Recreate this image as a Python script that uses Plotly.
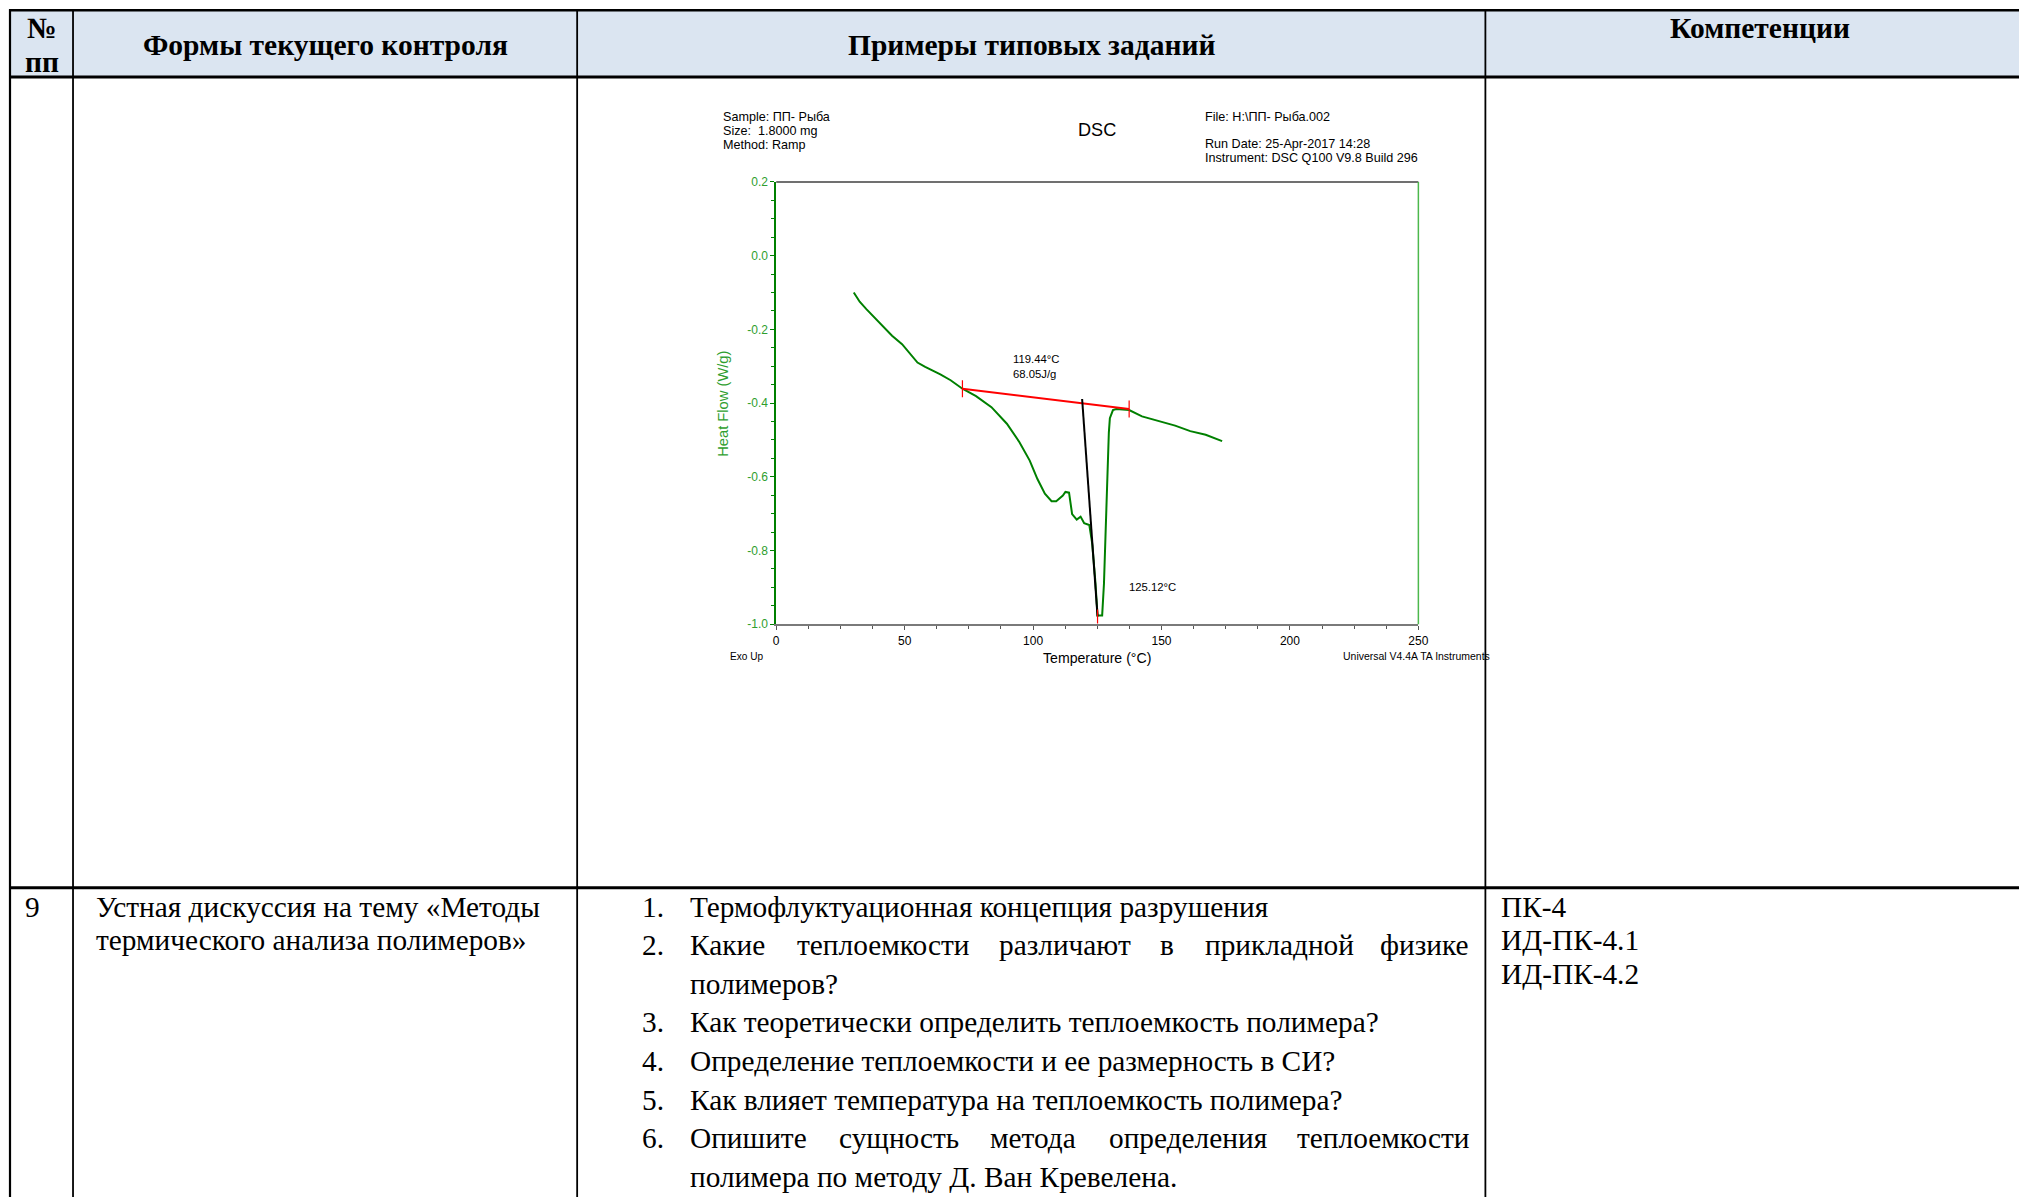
import plotly.graph_objects as go

W, H = 2019, 1197
# small correction measured between intended and photographed positions
AX, BX = 0.9933, 3.0
AY, BY = 0.9898, 6.8
FS = 1.008   # matching font scale correction

# ---------------- DSC data ----------------
temperature = [30.2, 32.5, 35.1, 40.1, 45.1, 49.0, 52.0, 55.0, 58.0, 63.9, 67.9, 72.5,
               77.8, 83.8, 89.8, 94.7, 98.7, 101.7, 104.6, 107.2, 109.0, 111.6, 112.6,
               114.0, 115.2, 117.0, 118.5, 119.9, 121.9, 123.0, 124.2, 125.1, 126.9,
               127.6, 128.2, 128.9, 129.5, 129.9, 131.1, 132.4, 137.4, 142.4, 149.3,
               155.3, 161.2, 167.2, 173.6]
heat_flow = [-0.100, -0.125, -0.145, -0.180, -0.217, -0.240, -0.265, -0.290, -0.302,
             -0.322, -0.338, -0.361, -0.381, -0.411, -0.456, -0.506, -0.556, -0.606,
             -0.646, -0.666, -0.666, -0.651, -0.641, -0.643, -0.701, -0.716, -0.708,
             -0.726, -0.731, -0.780, -0.880, -0.976, -0.976, -0.890, -0.760, -0.581,
             -0.480, -0.441, -0.419, -0.416, -0.419, -0.436, -0.449, -0.461, -0.476,
             -0.486, -0.503]

baseline_temp = [72.5, 137.4]
baseline_hf = [-0.361, -0.416]
tangent_temp = [119.1, 125.1]
tangent_hf = [-0.389, -0.979]
peak_temp = [125.1]
peak_hf = [-0.979]

onset_label = "119.44°C<br>68.05J/g"
onset_pos = (91.3, -0.2995)
peak_label = "125.12°C"
peak_label_pos = (136.6, -0.898)

x_ticks = [0, 50, 100, 150, 200, 250]
y_ticks = [0.2, 0.0, -0.2, -0.4, -0.6, -0.8, -1.0]
y_ticktext = ["0.2", "0.0", "-0.2", "-0.4", "-0.6", "-0.8", "-1.0"]

info_left = ["Sample: ПП- Рыба", "Size:  1.8000 mg", "Method: Ramp"]
info_right_top = "File: H:\\ПП- Рыба.002"
info_right = ["Run Date: 25-Apr-2017 14:28", "Instrument: DSC Q100 V9.8 Build 296"]
chart_title = "DSC"
x_title = "Temperature (°C)"
y_title = "Heat Flow (W/g)"
exo_label = "Exo Up"
software_label = "Universal V4.4A TA Instruments"

# ---------------- table text ----------------
header_no = ["№", "пп"]
header_labels = ["Формы текущего контроля", "Примеры типовых заданий", "Компетенции"]
row_number = "9"
form_lines = ["Устная дискуссия на тему «Методы", "термического анализа полимеров»"]
task_items = [
    ["Термофлуктуационная концепция разрушения"],
    ["Какие теплоемкости различают в прикладной физике", "полимеров?"],
    ["Как теоретически определить теплоемкость полимера?"],
    ["Определение теплоемкости и ее размерность в СИ?"],
    ["Как влияет температура на теплоемкость полимера?"],
    ["Опишите сущность метода определения теплоемкости", "полимера по методу Д. Ван Кревелена."],
]
competencies = ["ПК-4", "ИД-ПК-4.1", "ИД-ПК-4.2"]

# ---------------- helpers ----------------
def px(x):
    return ((x - BX) / AX) / W

def py(y):
    return 1 - ((y - BY) / AY) / H

SERIF = "Liberation Serif"
SANS = "Liberation Sans"
GREEN = "#008000"
LGREEN = "#2e9e2e"

annotations = []
shapes = []

def text(x, y, s, size, anchor="left", family=SERIF, color="black", angle=0, yanchor="middle"):
    annotations.append(dict(
        x=px(x), y=py(y), xref="paper", yref="paper", text=s, showarrow=False,
        xanchor=anchor, yanchor=yanchor, textangle=angle, borderpad=0,
        font=dict(family=family, size=size * FS, color=color)))

def hline(y, x0, x1, w):
    shapes.append(dict(type="line", xref="paper", yref="paper", x0=px(x0), x1=px(x1),
                       y0=py(y), y1=py(y), line=dict(color="black", width=w)))

def vline(x, y0, y1, w):
    shapes.append(dict(type="line", xref="paper", yref="paper", x0=px(x), x1=px(x),
                       y0=py(y0), y1=py(y1), line=dict(color="black", width=w)))

# header background
shapes.append(dict(type="rect", xref="paper", yref="paper", x0=px(10), x1=1.01,
                   y0=py(77), y1=py(10), fillcolor="#DBE5F1", line=dict(width=0), layer="below"))

# table grid
hline(10, 9, W + 30, 2.5)
hline(77, 9, W + 30, 3)
hline(889, 9, W + 30, 3)
vline(10, 9, H + 30, 2.2)
for cx in (73, 577, 1485):
    vline(cx, 9, H + 30, 1.8)

# header text
BOLD = 29.3
text(42, 28, "<b>%s</b>" % header_no[0], BOLD, "center")
text(42, 62, "<b>%s</b>" % header_no[1], BOLD, "center")
text(325, 45, "<b>%s</b>" % header_labels[0], BOLD, "center")
text(1031, 45, "<b>%s</b>" % header_labels[1], BOLD, "center")
text(1760, 28, "<b>%s</b>" % header_labels[2], BOLD, "center")

# row 9
BODY = 29.1
text(24, 908, row_number, BODY)
for i, ln in enumerate(form_lines):
    text(95, 908 + i * 33.5, ln, BODY)
for i, ln in enumerate(competencies):
    text(1500, 908 + i * 33.5, ln, BODY)

# approximate Times New Roman advance widths (em) for justification
CW = {'а': .444, 'б': .5, 'в': .472, 'г': .41, 'д': .509, 'е': .444, 'ж': .691, 'з': .395,
      'и': .535, 'й': .535, 'к': .486, 'л': .499, 'м': .633, 'н': .535, 'о': .5, 'п': .535,
      'р': .5, 'с': .444, 'т': .437, 'у': .5, 'ф': .648, 'х': .5, 'ц': .535, 'ч': .503,
      'ш': .77, 'щ': .77, 'ъ': .517, 'ы': .672, 'ь': .456, 'э': .429, 'ю': .747, 'я': .486,
      'К': .709, 'О': .722}

def word_w(wd):
    return sum(CW.get(c, 0.5) for c in wd) * BODY

LX, RX = 689, 1470
line_y = 908
for n, item in enumerate(task_items):
    text(641, line_y, "%d." % (n + 1), BODY)
    for j, ln in enumerate(item):
        justify = (j < len(item) - 1)
        if justify:
            words = ln.split(" ")
            widths = [word_w(w) for w in words]
            gap = (RX - LX - sum(widths)) / (len(words) - 1)
            x = LX
            for k, wd in enumerate(words):
                if k == len(words) - 1:
                    text(RX, line_y, wd, BODY, "right")
                else:
                    text(x, line_y, wd, BODY)
                x += widths[k] + gap
        else:
            text(LX, line_y, ln, BODY)
        line_y += 38.6

# chart texts
INFO = 12.5
for i, s in enumerate(info_left):
    text(722, 117 + i * 14, s, INFO, family=SANS)
text(1204, 117, info_right_top, INFO, family=SANS)
for i, s in enumerate(info_right):
    text(1204, 144 + i * 14, s, INFO, family=SANS)
text(1097, 130, chart_title, 18, "center", family=SANS)
text(1097, 659, x_title, 14, "center", family=SANS)
text(722, 404, y_title, 14.6, "center", family=SANS, color=LGREEN, angle=-90)
text(729, 657, exo_label, 10, family=SANS)
text(1342, 657, software_label, 10.4, family=SANS)

# plot frame: top gray, right green
shapes.append(dict(type="line", xref="x domain", yref="y domain", x0=0, x1=1, y0=1, y1=1,
                   line=dict(color="#707070", width=2)))
shapes.append(dict(type="line", xref="x domain", yref="y domain", x0=1, x1=1, y0=0, y1=1,
                   line=dict(color="#4cb84c", width=1.5)))

fig = go.Figure()
fig.add_trace(go.Scatter(x=temperature, y=heat_flow, mode="lines",
                         line=dict(color=GREEN, width=2), hoverinfo="skip"))
fig.add_trace(go.Scatter(x=baseline_temp, y=baseline_hf, mode="lines+markers",
                         line=dict(color="red", width=2),
                         marker=dict(symbol="line-ns", size=12, line=dict(color="red", width=1.2)),
                         hoverinfo="skip"))
fig.add_trace(go.Scatter(x=tangent_temp, y=tangent_hf, mode="lines",
                         line=dict(color="black", width=2), hoverinfo="skip"))
fig.add_trace(go.Scatter(x=peak_temp, y=peak_hf, mode="markers",
                         marker=dict(symbol="line-ns", size=10, line=dict(color="red", width=1.2)),
                         hoverinfo="skip"))

annotations.append(dict(x=onset_pos[0], y=onset_pos[1], xref="x", yref="y", text=onset_label,
                        showarrow=False, xanchor="left", yanchor="middle", align="left",
                        font=dict(family=SANS, size=11.3, color="black")))
annotations.append(dict(x=peak_label_pos[0], y=peak_label_pos[1], xref="x", yref="y",
                        text=peak_label, showarrow=False, xanchor="left", yanchor="middle",
                        font=dict(family=SANS, size=11.3, color="black")))

fig.update_layout(
    width=W, height=H, margin=dict(l=0, r=0, t=0, b=0, pad=0),
    paper_bgcolor="white", plot_bgcolor="white", showlegend=False,
    xaxis=dict(domain=[px(776), px(1418)], range=[0, 250], tickvals=x_ticks,
               ticks="outside", ticklen=4, tickcolor="#555", showline=True,
               linecolor="#7a7a7a", linewidth=2, showgrid=False, zeroline=False,
               tickfont=dict(family=SANS, size=12, color="black"),
               minor=dict(dtick=12.5, tick0=0, ticks="outside", ticklen=3, tickcolor="#555")),
    yaxis=dict(domain=[py(625), py(182)], range=[-1.0, 0.2], tickvals=y_ticks,
               ticktext=y_ticktext, ticks="outside", ticklen=4, tickcolor=GREEN,
               showline=True, linecolor=GREEN, linewidth=1.5, showgrid=False,
               zeroline=False, tickfont=dict(family=SANS, size=12, color=LGREEN),
               minor=dict(dtick=0.05, tick0=0, ticks="outside", ticklen=3, tickcolor=GREEN)),
    shapes=shapes, annotations=annotations,
)

fig.write_html("out.html", config={"displayModeBar": False},
               post_script="document.body.style.margin='0';document.body.style.overflow='hidden';")
